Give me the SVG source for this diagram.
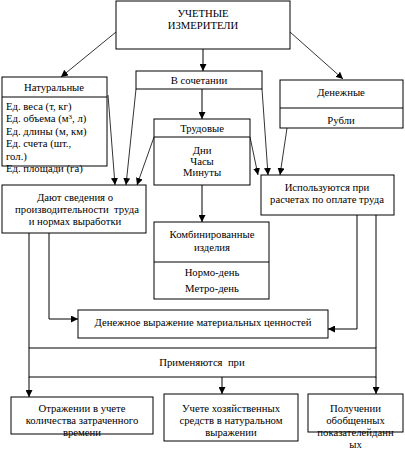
<svg xmlns="http://www.w3.org/2000/svg" width="405" height="449" viewBox="0 0 405 449">
<defs>
<marker id="ah" viewBox="0 0 8 8" refX="8" refY="4" markerWidth="7" markerHeight="7" markerUnits="userSpaceOnUse" orient="auto">
<path d="M0,0 L8,4 L0,8 z" fill="#000"/>
</marker>
<style>
rect{fill:#fff;stroke:#000;stroke-width:1}
.dv{stroke:#000;stroke-width:1}
text{font-family:"Liberation Serif","Times New Roman",serif;font-size:10.7px;fill:#000}
.c{text-anchor:middle}
#connectors line,#connectors polyline{fill:none;stroke:#000;stroke-width:1;marker-end:url(#ah)}
#connectors .thin{stroke-width:0.8}
#connectors .plain{marker-end:none}
</style>
</defs>
<rect x="0" y="0" width="405" height="449" style="fill:#fff;stroke:none"/>

<g id="connectors">
<line class="thin" x1="116" y1="32" x2="61" y2="77"/>
<line x1="203" y1="49" x2="203" y2="71"/>
<line class="thin" x1="290" y1="32" x2="343" y2="79"/>
<line x1="202" y1="89" x2="202" y2="119"/>
<line x1="202" y1="185" x2="202" y2="222"/>
<line class="thin" x1="108" y1="95" x2="115" y2="185"/>
<line class="thin" x1="136" y1="89" x2="126" y2="185"/>
<line class="thin" x1="154" y1="137" x2="137" y2="185"/>
<line class="thin" x1="250" y1="137" x2="258" y2="175"/>
<line class="thin" x1="262" y1="89" x2="268" y2="175"/>
<line class="thin" x1="290" y1="108" x2="280" y2="175"/>
<polyline points="49,233 49,319 78,319"/>
<polyline points="357,215 357,329 328,329"/>
<line class="plain" x1="29" y1="233" x2="29" y2="348"/>
<line class="plain" x1="376" y1="215" x2="376" y2="348"/>
<line x1="29" y1="377" x2="29" y2="397"/>
<line x1="222" y1="377" x2="222" y2="394"/>
<line x1="376" y1="377" x2="376" y2="394"/>
</g>

<g id="n-top">
<rect x="116" y="1" width="174" height="48"/>
<text class="c" x="203" y="17">УЧЕТНЫЕ</text>
<text class="c" x="203" y="29">ИЗМЕРИТЕЛИ</text>
</g>

<g id="n-natural">
<rect x="2" y="77" width="105" height="89"/>
<line class="dv" x1="2" y1="97" x2="107" y2="97"/>
<text class="c" x="54" y="91">Натуральные</text>
<text x="6" y="110">Ед. веса (т, кг)</text>
<text x="6" y="122">Ед. объема (м<tspan dy="-3" font-size="7">3</tspan><tspan dy="3">, л)</tspan></text>
<text x="6" y="134.5">Ед. длины (м, км)</text>
<text x="6" y="147">Ед. счета (шт.,</text>
<text x="6" y="159.5">гол.)</text>
<text x="6" y="172">Ед. площади (га)</text>
</g>

<g id="n-combo">
<rect x="136" y="71" width="126" height="18"/>
<text class="c" x="199" y="84">В сочетании</text>
</g>

<g id="n-money">
<rect x="280" y="80" width="123" height="48"/>
<line class="dv" x1="280" y1="108" x2="403" y2="108"/>
<text class="c" x="341" y="95.5">Денежные</text>
<text class="c" x="341" y="123.5">Рубли</text>
</g>

<g id="n-labor">
<rect x="154" y="119" width="96" height="66"/>
<line class="dv" x1="154" y1="137" x2="250" y2="137"/>
<text class="c" x="202" y="132">Трудовые</text>
<text class="c" x="202" y="153.5">Дни</text>
<text class="c" x="202" y="164.5">Часы</text>
<text class="c" x="202" y="175.5">Минуты</text>
</g>

<g id="n-productivity">
<rect x="2" y="185" width="144" height="48"/>
<text class="c" x="75" y="200.5">Дают сведения о</text>
<text class="c" x="77" y="212.5" xml:space="preserve">производительности  труда</text>
<text class="c" x="75" y="224.5">и нормах выработки</text>
</g>

<g id="n-wages">
<rect x="261" y="175" width="133" height="40"/>
<text class="c" x="327" y="190.5">Используются при</text>
<text class="c" x="327" y="202.5">расчетах по оплате труда</text>
</g>

<g id="n-products">
<rect x="154" y="222" width="115" height="77"/>
<line class="dv" x1="154" y1="262" x2="269" y2="262"/>
<text class="c" x="212" y="238">Комбинированные</text>
<text class="c" x="212" y="251">изделия</text>
<text class="c" x="212" y="276">Нормо-день</text>
<text class="c" x="212" y="292">Метро-день</text>
</g>

<g id="n-value">
<rect x="78" y="310" width="250" height="28"/>
<text class="c" x="203" y="326">Денежное выражение материальных ценностей</text>
</g>

<g id="n-apply">
<rect x="29" y="348" width="347" height="29"/>
<text class="c" x="202" y="366" xml:space="preserve">Применяются  при</text>
</g>

<g id="n-time">
<rect x="11" y="397" width="142" height="37"/>
<text class="c" x="82" y="411.5">Отражении в учете</text>
<text class="c" x="82" y="423.5">количества затраченного</text>
<text class="c" x="82" y="435.5">времени</text>
</g>

<g id="n-assets">
<rect x="164" y="394" width="134" height="47"/>
<text class="c" x="231" y="411.5">Учете хозяйственных</text>
<text class="c" x="231" y="423.5">средств в натуральном</text>
<text class="c" x="231" y="435.5">выражении</text>
</g>

<g id="n-summary">
<rect x="308" y="394" width="95" height="38" style="fill:none"/>
<text class="c" x="355.5" y="411.5">Получении</text>
<text class="c" x="355.5" y="423.5">обобщенных</text>
<text class="c" x="355.5" y="435.5">показателейданн</text>
<text class="c" x="355.5" y="447.5">ых</text>
</g>
</svg>
